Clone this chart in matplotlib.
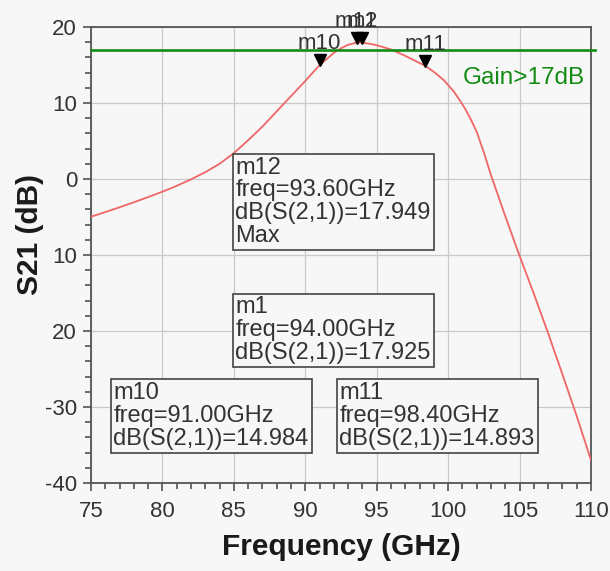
import matplotlib
matplotlib.use("Agg")
import matplotlib.pyplot as plt
from matplotlib.ticker import MultipleLocator
from matplotlib.transforms import offset_copy

# S21
freq_ghz = [75, 76, 77, 78, 79, 80, 81, 82, 83, 84, 85, 86, 87, 88, 89, 90, 91, 92, 92.5,
            93, 93.6, 94, 94.5, 95, 96, 97, 98.4, 99, 99.7, 100.4, 100.8, 101.2, 101.6,
            102, 102.5, 103, 103.5, 104, 105, 106, 107, 108, 109, 110]
s21_db = [-4.96, -4.35, -3.72, -3.06, -2.38, -1.67, -0.9, -0.05, 0.9, 2.0, 3.4, 5.1, 6.9,
          8.9, 10.9, 12.9, 14.98, 16.6, 17.2, 17.65, 17.95, 17.93, 17.8, 17.6, 17.05, 16.2,
          14.89, 14.1, 13.0, 11.5, 10.4, 9.2, 7.8, 6.2, 3.5, 0.5, -2.2, -4.9, -10.1, -15.1,
          -20.3, -25.7, -31.2, -37.0]

gain_spec_db = 17

marker_names = ["m10", "m11", "m12", "m1"]
marker_freq = [91.00, 98.40, 93.60, 94.00]
marker_db = [14.984, 14.893, 17.949, 17.925]
marker_extra = ["", "", "Max", ""]

xticks = [75, 80, 85, 90, 95, 100, 105, 110]
yticks = [20, 10, 0, -10, -20, -30, -40]
ytick_labels = ["20", "10", "0", "10", "20", "-30", "-40"]

bg = "#f7f7f7"
txt = "#333333"
plt.rcParams["font.family"] = ["Liberation Sans", "DejaVu Sans"]

fig = plt.figure(figsize=(6.1, 5.71), dpi=100, facecolor=bg)
ax = fig.add_axes([91 / 610, 1 - 483 / 571, 500 / 610, 456 / 571], facecolor=bg)

ax.plot(freq_ghz, s21_db, color="#f06666", lw=1.3, zorder=3)
ax.axhline(gain_spec_db, xmin=0, xmax=1.008, color="#138a13", lw=1.9, zorder=4, clip_on=False)
ax.text(109.6, 13.3, "Gain>17dB", color="#138a13", fontsize=17.5, ha="right", va="center", zorder=5)

ax.set_xlim(75, 110)
ax.set_ylim(-40, 20)
ax.set_xticks(xticks)
ax.set_yticks(yticks)
ax.set_yticklabels(ytick_labels)
ax.xaxis.set_minor_locator(MultipleLocator(1))
ax.yaxis.set_minor_locator(MultipleLocator(2))
ax.grid(True, which="major", color="#c9c9c9", lw=0.9, zorder=0)
ax.tick_params(which="major", direction="out", length=6, width=1.1, color="#444444",
               labelsize=16, labelcolor=txt, pad=4)
ax.tick_params(which="minor", direction="out", length=4, width=1.1, color="#444444")
ax.tick_params(axis="x", which="major", pad=7)
for sp in ax.spines.values():
    sp.set_color("#555555")
    sp.set_linewidth(1.3)

ax.set_xlabel("Frequency (GHz)", fontsize=21.5, fontweight="bold", color="#1a1a1a")
ax.set_ylabel("S21 (dB)", fontsize=21.5, fontweight="bold", color="#1a1a1a")
ax.xaxis.set_label_coords(0.5, -0.11)
ax.yaxis.set_label_coords(-0.095, 0.545)

# marker triangles sit with their tip on the curve, names above them
tri = offset_copy(ax.transData, fig=fig, x=0, y=5, units="dots")
lab = offset_copy(ax.transData, fig=fig, x=0, y=11, units="dots")
for name, f, d in zip(marker_names, marker_freq, marker_db):
    ax.plot(f, d, marker="v", ms=8, color="black", transform=tri, zorder=6, clip_on=False)
    ax.text(f, d, name, transform=lab, ha="center", va="bottom", fontsize=16,
            color=txt, zorder=6, clip_on=False)

# readout boxes (top-left corner in axes fraction)
box_pos = {"m12": (0.289, 0.716), "m1": (0.289, 0.409), "m10": (0.045, 0.221), "m11": (0.497, 0.221)}
for name, f, d, extra in zip(marker_names, marker_freq, marker_db, marker_extra):
    lines = [name, f"freq={f:.2f}GHz", f"dB(S(2,1))={d:.3f}"]
    if extra:
        lines.append(extra)
    x0, y0 = box_pos[name]
    ax.text(x0, y0, "\n".join(lines), transform=ax.transAxes, ha="left", va="top",
            fontsize=17, color=txt, linespacing=1.05, zorder=7,
            bbox=dict(boxstyle="square,pad=0.12", fc=bg, ec="#444444", lw=1.2))

fig.savefig("out.png", dpi=100, facecolor=bg)
